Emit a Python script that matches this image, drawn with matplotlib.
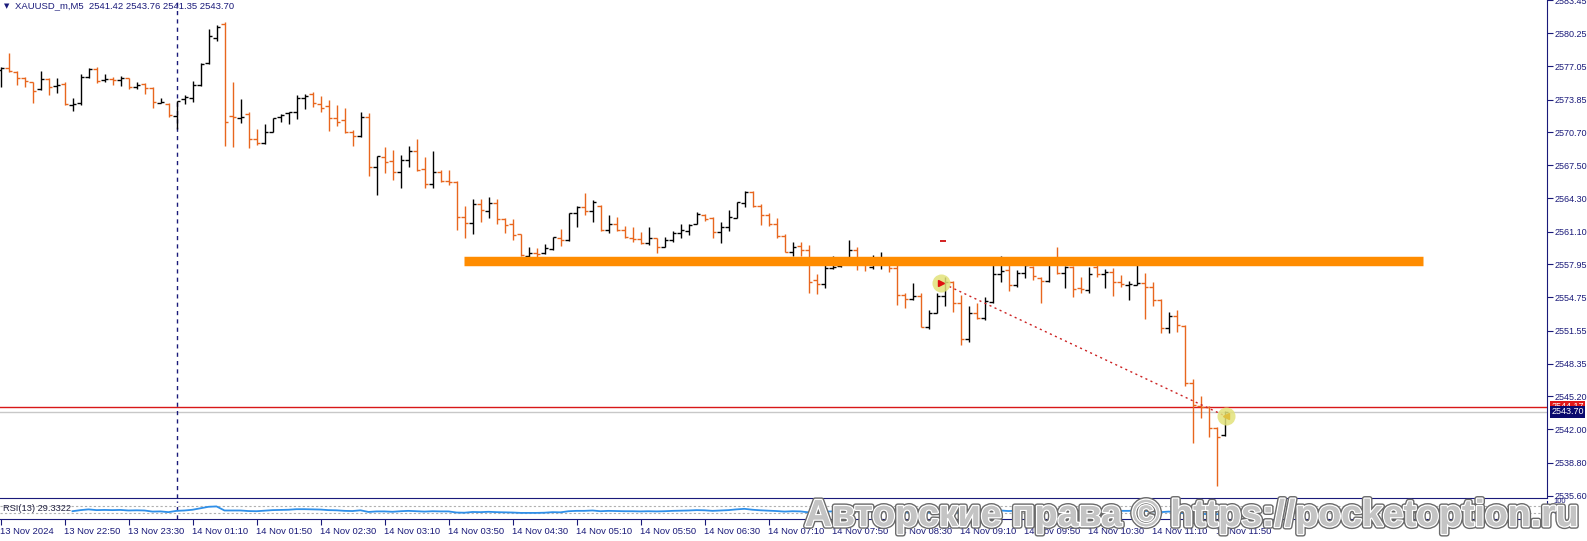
import numpy as np
import matplotlib
matplotlib.use("Agg")
import matplotlib.pyplot as plt
from matplotlib import patheffects as pe

# M5 bars, 13 Nov 22:10 -> 14 Nov 11:55
opens = [2576.71, 2576.87, 2576.54, 2575.90, 2575.52, 2574.87, 2575.84, 2575.16, 2575.32, 2573.33,
         2573.49, 2576.06, 2576.80, 2575.74, 2575.84, 2575.74, 2575.90, 2575.10, 2575.35, 2575.00,
         2573.55, 2573.42, 2572.30, 2573.91, 2574.03, 2575.26, 2577.35, 2579.83, 2581.12, 2572.30,
         2572.04, 2572.41, 2570.04, 2569.62, 2570.75, 2572.20, 2572.52, 2572.62, 2573.97, 2574.36,
         2573.42, 2573.23, 2572.07, 2571.88, 2570.75, 2570.33, 2572.17, 2567.31, 2568.27, 2567.92,
         2566.82, 2568.02, 2568.92, 2567.11, 2565.67, 2566.89, 2565.99, 2565.92, 2562.48, 2561.90,
         2563.77, 2563.12, 2563.83, 2562.32, 2561.80, 2560.84, 2558.78, 2559.00, 2559.00, 2559.39,
         2560.51, 2560.29, 2562.86, 2563.44, 2563.12, 2563.57, 2561.26, 2561.84, 2561.26, 2560.52,
         2560.39, 2559.97, 2560.45, 2559.65, 2560.29, 2560.93, 2561.19, 2561.84, 2562.70, 2562.45,
         2561.09, 2561.51, 2562.45, 2563.83, 2564.96, 2563.61, 2562.70, 2561.80, 2560.71, 2559.10,
         2559.71, 2559.32, 2556.43, 2556.01, 2557.55, 2557.78, 2558.42, 2559.32, 2558.20, 2557.71,
         2558.42, 2558.52, 2557.62, 2554.98, 2554.56, 2554.88, 2551.93, 2553.28, 2554.89, 2556.21,
         2554.24, 2550.70, 2553.21, 2552.73, 2554.34, 2557.01, 2557.40, 2555.95, 2557.08, 2557.65,
         2556.59, 2556.33, 2558.52, 2557.08, 2557.72, 2555.63, 2555.47, 2557.65, 2557.01, 2557.24,
         2556.21, 2555.95, 2555.95, 2556.11, 2555.79, 2554.50, 2551.76, 2552.95, 2552.02, 2546.45,
         2544.30, 2544.20, 2542.11, 2541.42]
highs = [2577.03, 2578.38, 2576.61, 2576.06, 2575.58, 2576.61, 2575.97, 2575.97, 2575.58, 2573.97,
         2576.29, 2576.93, 2577.03, 2576.29, 2576.03, 2576.13, 2575.97, 2575.58, 2575.45, 2575.10,
         2573.97, 2573.49, 2573.71, 2574.29, 2575.64, 2577.35, 2580.67, 2581.05, 2581.31, 2575.58,
         2573.91, 2572.62, 2571.01, 2571.52, 2572.10, 2572.42, 2572.68, 2574.29, 2574.36, 2574.55,
         2574.20, 2573.81, 2573.33, 2573.04, 2570.91, 2572.65, 2572.55, 2568.40, 2569.24, 2568.98,
         2568.50, 2569.37, 2570.01, 2568.34, 2568.88, 2567.05, 2567.05, 2565.99, 2563.57, 2564.22,
         2564.22, 2564.47, 2564.22, 2562.38, 2562.29, 2560.87, 2559.58, 2559.48, 2559.90, 2560.61,
         2561.35, 2562.86, 2563.57, 2564.86, 2564.15, 2563.67, 2562.70, 2562.48, 2561.64, 2561.51,
         2561.09, 2561.51, 2560.52, 2560.55, 2561.16, 2561.80, 2561.84, 2562.96, 2562.77, 2562.54,
         2562.06, 2563.19, 2563.99, 2565.02, 2565.02, 2563.73, 2562.87, 2562.38, 2560.84, 2560.13,
         2560.13, 2559.81, 2556.97, 2557.94, 2558.74, 2558.62, 2560.29, 2559.58, 2558.62, 2558.84,
         2559.16, 2558.62, 2557.94, 2555.14, 2556.11, 2555.14, 2553.53, 2555.14, 2556.75, 2556.37,
         2554.98, 2553.92, 2554.24, 2554.76, 2557.88, 2558.75, 2558.04, 2557.40, 2558.43, 2557.78,
         2556.75, 2558.62, 2559.65, 2557.78, 2557.78, 2556.69, 2557.65, 2558.68, 2557.46, 2557.56,
         2556.91, 2556.37, 2558.14, 2557.14, 2556.27, 2554.56, 2553.37, 2553.53, 2552.09, 2546.84,
         2545.26, 2544.26, 2542.27, 2543.76]
lows = [2575.03, 2576.48, 2575.26, 2575.10, 2573.55, 2574.77, 2574.29, 2574.52, 2573.33, 2572.78,
        2573.33, 2575.90, 2575.42, 2575.58, 2575.26, 2575.19, 2574.84, 2574.87, 2574.42, 2573.00,
        2573.49, 2572.20, 2571.01, 2573.39, 2573.65, 2575.16, 2577.29, 2579.51, 2569.40, 2569.24,
        2571.55, 2569.14, 2569.46, 2569.53, 2570.69, 2571.65, 2571.46, 2571.97, 2572.91, 2573.10,
        2572.65, 2570.85, 2571.33, 2570.59, 2569.40, 2570.27, 2566.50, 2564.67, 2566.73, 2566.08,
        2565.34, 2567.37, 2566.99, 2565.28, 2565.34, 2565.92, 2565.60, 2561.26, 2560.51, 2560.87,
        2562.06, 2562.38, 2561.84, 2561.00, 2560.29, 2558.74, 2558.68, 2558.68, 2558.94, 2559.32,
        2559.71, 2560.19, 2561.58, 2562.70, 2562.06, 2561.19, 2561.00, 2561.19, 2560.45, 2560.13,
        2559.90, 2559.81, 2559.07, 2559.58, 2560.13, 2560.45, 2560.77, 2561.80, 2562.12, 2560.52,
        2560.03, 2561.19, 2562.38, 2563.44, 2563.44, 2561.74, 2561.67, 2560.45, 2559.10, 2558.74,
        2558.74, 2555.14, 2555.07, 2555.69, 2557.49, 2557.65, 2558.29, 2557.39, 2557.33, 2557.46,
        2557.46, 2557.23, 2554.01, 2553.69, 2554.50, 2551.86, 2551.67, 2553.21, 2553.92, 2553.37,
        2550.15, 2550.41, 2552.63, 2552.57, 2554.18, 2556.27, 2555.37, 2555.72, 2556.66, 2556.43,
        2554.24, 2556.27, 2556.98, 2555.63, 2554.82, 2555.14, 2555.14, 2556.69, 2555.63, 2554.89,
        2555.79, 2554.50, 2555.95, 2552.63, 2553.92, 2551.35, 2551.28, 2551.44, 2546.20, 2540.66,
        2543.07, 2541.24, 2536.54, 2541.35]
closes = [2576.87, 2576.61, 2575.90, 2575.64, 2574.71, 2575.84, 2575.10, 2575.26, 2573.39, 2573.39,
          2576.06, 2576.80, 2575.68, 2575.84, 2575.71, 2575.97, 2575.10, 2575.26, 2575.00, 2573.58,
          2573.65, 2572.36, 2573.71, 2574.13, 2575.26, 2577.29, 2580.02, 2580.89, 2571.65, 2572.20,
          2572.13, 2570.04, 2569.62, 2570.69, 2572.04, 2572.36, 2572.62, 2573.97, 2574.19, 2573.49,
          2573.04, 2572.07, 2571.68, 2570.75, 2570.33, 2572.17, 2567.31, 2568.40, 2567.85, 2566.82,
          2568.02, 2568.92, 2567.05, 2565.70, 2566.89, 2565.99, 2565.92, 2562.48, 2561.96, 2563.73,
          2563.19, 2563.83, 2562.32, 2561.74, 2560.77, 2558.84, 2559.00, 2558.94, 2559.48, 2560.55,
          2560.29, 2562.86, 2563.44, 2563.12, 2563.99, 2561.26, 2561.84, 2561.26, 2560.55, 2560.39,
          2560.03, 2560.45, 2559.65, 2560.29, 2560.93, 2561.26, 2561.74, 2562.80, 2562.29, 2561.03,
          2561.58, 2562.48, 2563.93, 2564.96, 2563.57, 2562.70, 2561.80, 2560.68, 2559.16, 2559.65,
          2559.32, 2556.27, 2556.04, 2557.62, 2557.71, 2558.42, 2559.32, 2558.20, 2558.13, 2558.42,
          2558.52, 2557.55, 2554.98, 2554.59, 2554.88, 2551.92, 2553.21, 2554.89, 2556.27, 2554.24,
          2550.70, 2553.21, 2552.73, 2554.44, 2557.01, 2557.33, 2555.95, 2557.14, 2557.88, 2556.82,
          2556.37, 2558.52, 2557.08, 2557.72, 2555.53, 2555.53, 2557.01, 2557.01, 2557.24, 2556.21,
          2556.05, 2556.05, 2556.17, 2555.79, 2554.50, 2551.76, 2552.95, 2552.09, 2546.45, 2544.36,
          2544.20, 2542.11, 2541.30, 2543.70]

# RSI(13) (nan = hidden behind the label)
rsi = [np.nan] * 9 + [
    42, 48, 52, 48, 49, 48, 49, 46, 47, 46, 40, 41, 37, 44, 46, 50, 58, 66, 68, 46, 46,
    46, 43, 42, 45, 48, 49, 50, 53, 53, 52, 51, 48, 47, 44, 43, 47, 38, 41, 41, 39,
    42, 44, 42, 40, 42, 41, 41, 35, 34, 38, 37, 39, 37, 36, 35, 33, 33, 33, 34, 37,
    36, 42, 44, 44, 46, 42, 44, 43, 42, 42, 41, 42, 41, 42, 44, 45, 46, 48, 47, 44,
    46, 48, 52, 55, 50, 47, 45, 43, 40, 42, 41, 36, 36, 40, 41, 42, 44, 42, 42, 42,
    43, 41, 36, 35, 36, 31, 34, 38, 41, 38, 33, 37, 37, 40, 45, 46, 43, 45, 47, 45,
    44, 48, 45, 47, 43, 43, 47, 47, 47, 45, 44, 44, 45, 44, 42, 37, 40, 38, 29, 27,
    28, 26, 26, 29]

price_ticks = [2583.45, 2580.25, 2577.05, 2573.85, 2570.70, 2567.50, 2564.30, 2561.10,
               2557.95, 2554.75, 2551.55, 2548.35, 2545.20, 2542.00, 2538.80, 2535.60]
time_labels = ["13 Nov 2024", "13 Nov 22:50", "13 Nov 23:30", "14 Nov 01:10", "14 Nov 01:50",
               "14 Nov 02:30", "14 Nov 03:10", "14 Nov 03:50", "14 Nov 04:30", "14 Nov 05:10",
               "14 Nov 05:50", "14 Nov 06:30", "14 Nov 07:10", "14 Nov 07:50", "14 Nov 08:30",
               "14 Nov 09:10", "14 Nov 09:50", "14 Nov 10:30", "14 Nov 11:10", "14 Nov 11:50"]
label_every = 8
day_sep_bar = 22

# drawn objects
level_price = 2558.3          # orange zone
level_span = (57.9, 177.8)    # bar index range of the zone
ask_price, bid_price = 2544.17, 2543.70
trend_x, trend_y = [118.6, 152.8], [2555.80, 2543.40]
circles_x, circles_y = [117.6, 153.2], [2556.12, 2543.25]
mark_x, mark_y = 117.8, 2560.19

NAVY = "#1a1a7a"
BEAR = "#e8661e"
FONT = "Liberation Sans"

W, H = 1587, 541
fig = plt.figure(figsize=(W / 100, H / 100), dpi=100)
fig.patch.set_facecolor("white")

px_right = 1547
main_bot, main_top = 498, 0
ax = fig.add_axes([0, 1 - main_bot / H, px_right / W, (main_bot - main_top) / H])
ax2 = fig.add_axes([0, 1 - 519 / H, px_right / W, 18.5 / H], sharex=ax)

n = len(closes)
x = np.arange(n)
o, h, l, c = map(np.array, (opens, highs, lows, closes))
up = c >= o
cols = np.where(up, "black", BEAR)

ax.vlines(x, l, h, colors=cols, lw=1.0, zorder=3)
ax.hlines(o, x - 0.4, x, colors=cols, lw=1.0, zorder=3)
ax.hlines(c, x, x + 0.4, colors=cols, lw=1.0, zorder=3)

# zone, price lines, separator
zone = ax.hlines(level_price, *level_span, colors="#ff8c00", lw=6.8, zorder=4)
zone.set_capstyle("butt")
ax.axhline(ask_price, color="#d81818", lw=1.0, zorder=2)
ax.axhline(bid_price, color="#c8c8c8", lw=1.0, zorder=2)
ax.axvline(day_sep_bar, color=NAVY, lw=1.0, ls=(0, (3, 3)), zorder=2)
ax2.axvline(day_sep_bar, color=NAVY, lw=1.0, ls=(0, (3, 3)), zorder=2)

ax.plot(trend_x, trend_y, color="#cc2222", lw=1.0, ls=(0, (1.5, 2.5)), zorder=5)
ax.plot(circles_x, circles_y, "o", ms=13, color="#e2e27a", alpha=0.85, mec="none", zorder=6)
ax.plot(circles_x[0], circles_y[0], ">", ms=5, color="#e01010", zorder=7)
ax.plot(circles_x[1], circles_y[1], "<", ms=5, color="#e0c040", zorder=7)
ax.hlines(mark_y, mark_x - 0.35, mark_x + 0.35, colors="#d01010", lw=1.3, zorder=5)

ylo = 2580.25 - (main_bot - 33.3) / 10.356
yhi = 2580.25 + 33.3 / 10.356
ax.set_ylim(ylo, yhi)
ax.set_xlim(-0.0625, (px_right - 0.5) / 8)

for a in (ax, ax2):
    for s in ("left", "top"):
        a.spines[s].set_visible(False)
    a.spines["right"].set_color(NAVY)
    a.spines["bottom"].set_color(NAVY)
    a.set_facecolor("white")

ax.yaxis.tick_right()
ax.set_yticks(price_ticks)
ax.set_yticklabels([f"{p:.2f}" for p in price_ticks])
ax.tick_params(axis="y", length=4, width=0.8, color=NAVY, labelcolor=NAVY, pad=1.2,
               labelsize=6.5, labelfontfamily=FONT)
ax.tick_params(axis="x", bottom=False, labelbottom=False)

# RSI window
ax2.plot(x, rsi, color="#2f8fe8", lw=1.3, zorder=3)
for lev in (30, 70):
    ax2.axhline(lev, color="#b0b0b0", lw=0.8, ls=(0, (2, 2)), zorder=1)
ax2.set_ylim(0, 100)
ax2.set_yticks([])
ticks = np.arange(0, label_every * len(time_labels), label_every)
ax2.set_xticks(ticks)
ax2.set_xticklabels(time_labels, ha="left")
ax2.tick_params(axis="x", length=4, width=0.8, color=NAVY, labelcolor=NAVY, pad=2,
                labelsize=6.8, labelfontfamily=FONT)
ax2.text(0.002, 0.55, "RSI(13) 29.3322", transform=ax2.transAxes, fontsize=6.7,
         family=FONT, color="#202040", va="center", ha="left", zorder=6)
for txt, yy in (("100", 0.95), ("30", 0.35)):
    ax2.text(1.004, yy, txt, transform=ax2.transAxes, fontsize=5.5, family=FONT,
             color=NAVY, va="center", ha="left", clip_on=False)

# price boxes on the axis
for val, bg in ((ask_price, "#e01818"), (bid_price, "#0a0a6e")):
    ax.annotate(f"{val:.2f}", xy=(1.0, val), xycoords=("axes fraction", "data"),
                xytext=(3, 0), textcoords="offset points", va="center", ha="left",
                fontsize=6.5, family=FONT, color="white",
                bbox=dict(boxstyle="square,pad=0.15", fc=bg, ec="none"), annotation_clip=False)

# header
fig.text(4 / W, 1 - 6 / H, "\u25bc", fontsize=5, color=NAVY, va="center", family="DejaVu Sans")
fig.text(15 / W, 1 - 6 / H, "XAUUSD_m,M5  2541.42 2543.76 2541.35 2543.70", fontsize=6.8,
         color=NAVY, va="center", family=FONT)

# watermark
fig.text(1192 / W, 1 - 516 / H, "Авторские права © https://pocketoption.ru", fontsize=27,
         weight="bold", family=FONT, color="#c4c4c4", ha="center", va="center", zorder=20,
         path_effects=[pe.withStroke(linewidth=4, foreground="#6a6a6a"),
                       pe.withStroke(linewidth=2, foreground="white"), pe.Normal()])

fig.savefig("out.png", dpi=100, facecolor="white")
